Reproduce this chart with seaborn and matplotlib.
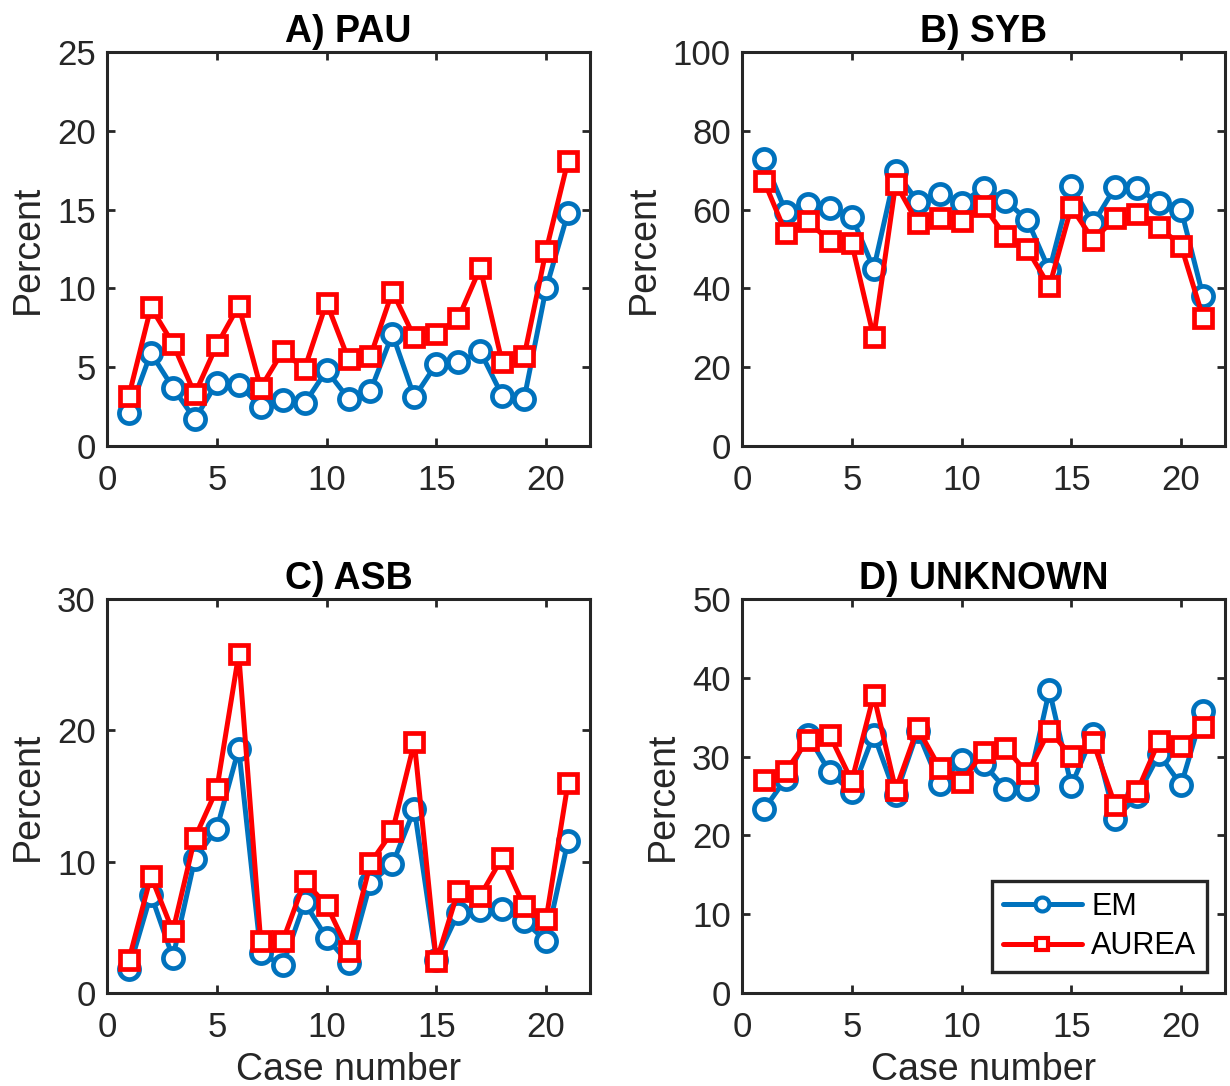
import numpy as np
import pandas as pd
import matplotlib
matplotlib.use("Agg")
import matplotlib.pyplot as plt
import seaborn as sns
from matplotlib.lines import Line2D

cases = list(range(1, 22))

pau_em = [2.1, 5.9, 3.7, 1.7, 4.0, 3.9, 2.5, 2.9, 2.7, 4.8, 3.0, 3.5, 7.1, 3.1, 5.2, 5.3, 6.0, 3.2, 3.0, 10.0, 14.8]
pau_aurea = [3.2, 8.8, 6.5, 3.3, 6.4, 8.9, 3.7, 6.0, 4.9, 9.1, 5.5, 5.7, 9.8, 6.9, 7.1, 8.1, 11.3, 5.3, 5.7, 12.4, 18.1]

syb_em = [72.8, 59.4, 61.5, 60.3, 58.2, 45.0, 69.8, 62.0, 64.0, 61.6, 65.6, 62.3, 57.3, 44.6, 66.0, 56.5, 65.7, 65.6, 61.6, 60.0, 38.0]
syb_aurea = [67.3, 54.0, 57.0, 52.0, 51.4, 27.6, 66.6, 56.6, 57.8, 57.2, 61.0, 53.2, 49.9, 40.5, 60.6, 52.3, 57.8, 58.8, 55.6, 50.8, 32.6]

asb_em = [1.8, 7.5, 2.7, 10.2, 12.5, 18.6, 3.05, 2.1, 6.9, 4.2, 2.3, 8.4, 9.8, 14.0, 2.55, 6.1, 6.3, 6.4, 5.5, 3.95, 11.6]
asb_aurea = [2.55, 8.9, 4.7, 11.8, 15.5, 25.8, 3.95, 3.95, 8.5, 6.7, 3.2, 9.9, 12.3, 19.1, 2.4, 7.8, 7.4, 10.3, 6.6, 5.6, 16.0]

unk_em = [23.3, 27.2, 32.7, 28.0, 25.5, 32.8, 25.1, 33.2, 26.5, 29.6, 29.1, 25.9, 25.9, 38.4, 26.3, 32.9, 22.1, 25.0, 30.3, 26.4, 35.8]
unk_aurea = [27.0, 28.2, 32.1, 32.7, 26.9, 37.8, 25.8, 33.6, 28.6, 26.8, 30.6, 31.1, 27.9, 33.3, 30.1, 31.8, 23.8, 25.6, 32.0, 31.4, 33.7]

titles = ["A) PAU", "B) SYB", "C) ASB", "D) UNKNOWN"]
ylims = [25, 100, 30, 50]
yticks = [[0, 5, 10, 15, 20, 25], [0, 20, 40, 60, 80, 100], [0, 10, 20, 30], [0, 10, 20, 30, 40, 50]]
series = [(pau_em, pau_aurea), (syb_em, syb_aurea), (asb_em, asb_aurea), (unk_em, unk_aurea)]
xticks = [0, 5, 10, 15, 20]

sns.set_theme(style="white")
plt.rcParams['font.family'] = ['Liberation Sans', 'DejaVu Sans']
plt.rcParams['xtick.direction'] = 'in'
plt.rcParams['ytick.direction'] = 'in'

W, H = 1230, 1086
fig = plt.figure(figsize=(W / 100, H / 100), dpi=100)
boxes = [(107, 52, 590, 446), (742, 52, 1225, 446), (107, 599, 590, 993), (742, 599, 1225, 993)]

blue = "#0072BD"
red = "#FF0000"
dark = "#262626"
tick_fs = 25
lab_fs = 27
lw = 3.6

for i, (l, t, r, b) in enumerate(boxes):
    ax = fig.add_axes([l / W, 1 - b / H, (r - l) / W, (b - t) / H])
    em, au = series[i]
    df = pd.DataFrame({"case": cases, "EM": em, "AUREA": au})
    sns.lineplot(data=df, x="case", y="EM", ax=ax, color=blue, marker="o", markersize=14.5,
                 markeredgewidth=3.4, markeredgecolor=blue, markerfacecolor="white", linewidth=lw,
                 legend=False)
    sns.lineplot(data=df, x="case", y="AUREA", ax=ax, color=red, marker="s", markersize=12.5,
                 markeredgewidth=3.4, markeredgecolor=red, markerfacecolor="white", linewidth=lw,
                 legend=False)
    ax.set_xlim(0, 22)
    ax.set_ylim(0, ylims[i])
    ax.set_xticks(xticks)
    ax.set_yticks(yticks[i])
    ax.tick_params(axis="both", labelsize=tick_fs, length=6, width=2, colors=dark,
                   top=True, right=True, bottom=True, left=True)
    ax.tick_params(axis="x", pad=13)
    ax.tick_params(axis="y", pad=8)
    for s in ax.spines.values():
        s.set_visible(True)
        s.set_linewidth(2.2)
        s.set_color(dark)
    ax.set_title(titles[i], fontsize=lab_fs, fontweight="bold", pad=7, color="black")
    ax.set_ylabel("Percent", fontsize=lab_fs, color=dark, labelpad=8)
    if i >= 2:
        ax.set_xlabel("Case number", fontsize=lab_fs, color=dark, labelpad=6)
    else:
        ax.set_xlabel("")
    if i == 3:
        handles = [
            Line2D([], [], color=blue, marker="o", markersize=10, markeredgewidth=3,
                   markerfacecolor="white", linewidth=lw),
            Line2D([], [], color=red, marker="s", markersize=9, markeredgewidth=3,
                   markerfacecolor="white", linewidth=lw),
        ]
        leg = ax.legend(handles, ["EM", "AUREA"], loc="lower right", fontsize=22,
                        fancybox=False, framealpha=1, edgecolor=dark,
                        handlelength=2.6, borderpad=0.35, labelspacing=0.32,
                        handletextpad=0.3, borderaxespad=0.0,
                        bbox_to_anchor=(0.963, 0.053))
        leg.get_frame().set_linewidth(2.4)
        for txt in leg.get_texts():
            txt.set_color("black")

fig.savefig("out.png", dpi=100)
